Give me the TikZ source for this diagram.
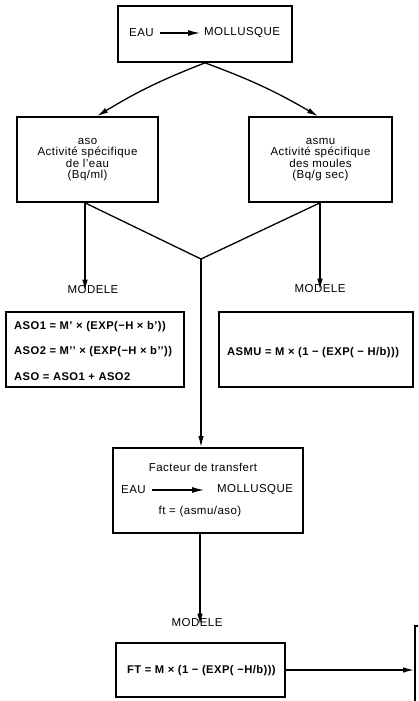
\documentclass[tikz,border=0pt]{standalone}
\usepackage{fontspec}
\setmainfont{Liberation Sans}[LetterSpace=4.0]
\usetikzlibrary{arrows.meta,calc}
\tikzset{
  box/.style={draw, line width=1.7pt, rectangle, inner sep=0pt},
  lbl/.style={inner sep=0pt, font=\fontsize{11.5}{11.6}\selectfont, align=center},
  eq/.style={inner sep=0pt, font=\fontsize{11.2}{12}\selectfont\bfseries},
  conn/.style={line width=1.3pt},
  arr/.style={line width=1.3pt, -{Latex[length=11pt,width=5.5pt]}},
  txtarr/.style={line width=1.1pt, -{Latex[length=12pt,width=6pt]}},
}
\begin{document}
\begin{tikzpicture}[x=1pt,y=-1pt]
\useasboundingbox (0,0) rectangle (418,701);
% top box
\node[box, minimum width=174pt, minimum height=56pt] (top) at (205,34) {};
\node[lbl, anchor=west] (eau1) at (129,33) {EAU};
\node[lbl, anchor=west] (moll1) at (204,33) {MOLLUSQUE};
\draw[txtarr] ([xshift=6pt]eau1.east) -- ([xshift=-4pt]moll1.west);
% second row
\node[box, minimum width=141pt, minimum height=85pt, lbl] (aso) at (87.5,159.5)
  {aso\\Activité spécifique\\de l’eau\\(Bq/ml)};
\node[box, minimum width=143pt, minimum height=85pt, lbl] (asmu) at (320.5,159.5)
  {asmu\\Activité spécifique\\des moules\\(Bq/g sec)};
\draw[arr] (top.south) to[bend right=5] ([xshift=9.5pt]aso.north);
\draw[arr] (top.south) to[bend left=5] ([xshift=-2.5pt]asmu.north);
% MODELE labels
\node[lbl] (modL) at (93,290) {MODELE};
\node[lbl] (modR) at (320,289) {MODELE};
\coordinate (junc) at (201,259);
\draw[arr] ([xshift=-2.5pt]aso.south) -- ([xshift=-2.5pt,yshift=-5pt]aso.south |- modL.north);
\draw[arr] ([xshift=-0.5pt]asmu.south) -- ([xshift=-0.5pt,yshift=-5pt]asmu.south |- modR.north);
\draw[conn] ([xshift=-2.5pt]aso.south) -- (junc) -- ([xshift=-0.5pt]asmu.south);
% model boxes
\node[box, minimum width=178pt, minimum height=75pt] (asoM) at (95,349.5) {};
\node[eq, anchor=west] (e1) at (14,327) {ASO1 = M’ × (EXP(−H × b’))};
\node[eq, anchor=west] (e2) at (14,352) {ASO2 = M’’ × (EXP(−H × b’’))};
\node[eq, anchor=west] (e3) at (14,377) {ASO = ASO1 + ASO2};
\node[box, minimum width=194pt, minimum height=75pt] (asmuM) at (316,349.5) {};
\node[eq, anchor=west] (e4) at (227,353) {ASMU = M × (1 − (EXP( − H/b)))};
% transfer factor box
\node[box, minimum width=190pt, minimum height=85pt] (fact) at (208,490.5) {};
\node[lbl] (ftitle) at (203,467) {Facteur de transfert};
\node[lbl, anchor=west] (eau2) at (121,490) {EAU};
\node[lbl, anchor=west] (moll2) at (217,490) {MOLLUSQUE};
\draw[txtarr] ([xshift=6pt]eau2.east) -- ([xshift=-13pt]moll2.west);
\node[lbl] (ftdef) at (200,512) {ft = (asmu/aso)};
\draw[arr] (junc) -- (junc |- fact.north);
% bottom
\node[lbl] (modB) at (197,623) {MODELE};
\draw[arr] ([xshift=-8pt]fact.south) -- ([xshift=-8pt,yshift=-6pt]fact.south |- modB.north);
\node[box, minimum width=169pt, minimum height=54pt] (ftM) at (200.5,670) {};
\node[eq, anchor=west] (e5) at (127,671) {FT = M × (1 − (EXP( −H/b)))};
\begin{scope}
\clip (0,0) rectangle (418,701);
\node[box, anchor=north west, minimum width=40pt, minimum height=100pt] (nxt) at (414,625) {};
\end{scope}
\draw[arr] (ftM.east) -- (ftM.east -| nxt.west);
\end{tikzpicture}
\end{document}
